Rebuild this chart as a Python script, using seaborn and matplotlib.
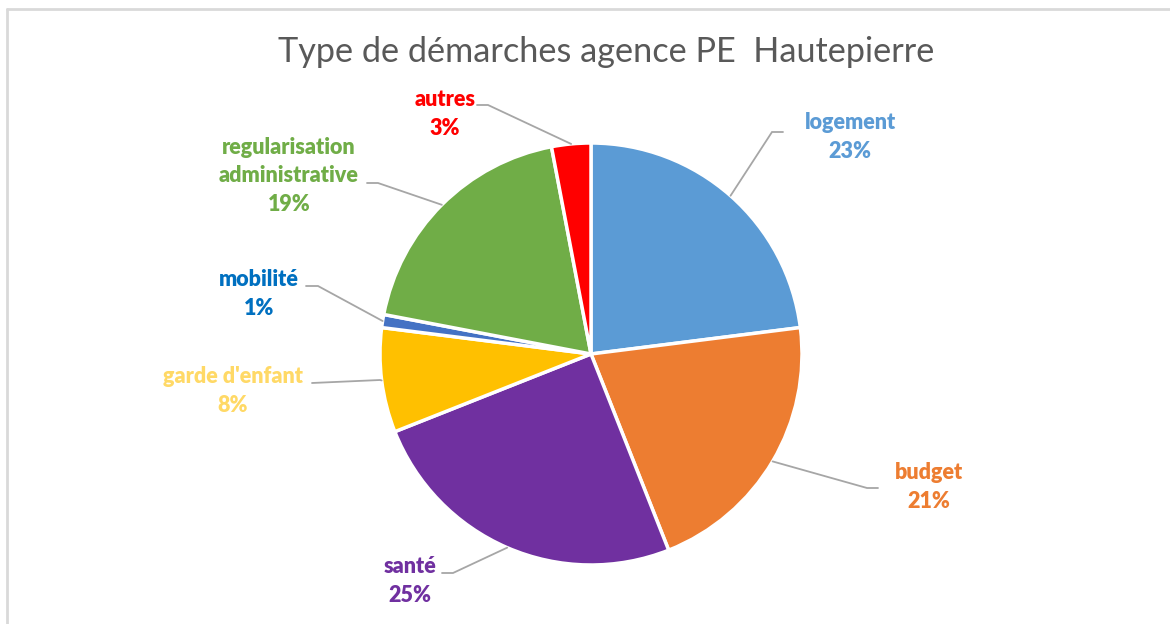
import matplotlib
matplotlib.use("Agg")
import numpy as np
import matplotlib.pyplot as plt
import seaborn as sns

# data
categories = ["logement", "budget", "santé", "garde d'enfant", "mobilité",
              "regularisation\nadministrative", "autres"]
shares = [23, 21, 25, 8, 1, 19, 3]
slice_colors = ["#5B9BD5", "#ED7D31", "#7030A0", "#FFC000", "#4472C4", "#70AD47", "#FF0000"]
label_colors = ["#5B9BD5", "#ED7D31", "#7030A0", "#FFD966", "#0070C0", "#70AD47", "#FF0000"]
title = "Type de démarches agence PE  Hautepierre"

sns.set_style("white")
plt.rcParams['font.family'] = ['Lato', 'DejaVu Sans']

W, H = 1170, 624
fig = plt.figure(figsize=(W / 100, H / 100), dpi=100)
ax = fig.add_axes([0, 0, 1, 1])

def py(y):
    return H - y

cx, cy, r = 591, py(354), 211
wedges, _ = ax.pie(shares, colors=slice_colors, startangle=90, counterclock=False,
                   center=(cx, cy), radius=r,
                   wedgeprops=dict(edgecolor="white", linewidth=2.5))

# label layout in pixels: text centre, elbow, tail of leader line
layout = [
    dict(text=(850, 137), elbow=(772, 132), tail=(783, 132)),
    dict(text=(929, 487), elbow=(867, 488), tail=(878, 488)),
    dict(text=(410, 581), elbow=(453, 573), tail=(442, 573)),
    dict(text=(233, 391), elbow=(380, 380), tail=(312, 383)),
    dict(text=(259, 294), elbow=(318, 286), tail=(306, 286)),
    dict(text=(289, 176), elbow=(378, 183), tail=(367, 183)),
    dict(text=(445, 114), elbow=(488, 105), tail=(477, 105)),
]

for w, cat, pct, col, lay in zip(wedges, categories, shares, label_colors, layout):
    mid = np.deg2rad((w.theta1 + w.theta2) / 2)
    x0 = cx + r * np.cos(mid)
    y0 = cy + r * np.sin(mid)
    ex, ey = lay["elbow"]
    tx, ty = lay["tail"]
    ax.plot([x0, ex, tx], [y0, py(ey), py(ty)], color="#A6A6A6", lw=1.3,
            solid_joinstyle="miter")
    ax.text(lay["text"][0], py(lay["text"][1]), f"{cat}\n{pct}%", color=col,
            fontsize=15.5, fontweight="heavy", ha="center", va="center",
            linespacing=1.42)

ax.text(606, py(52), title, ha="center", va="center", fontsize=24.7, color="#595959")

# chart frame (cropped)
ax.plot([7, W], [py(9), py(9)], color="#D9D9D9", lw=2, clip_on=False)
ax.plot([7, 7], [py(9), 0], color="#D9D9D9", lw=2, clip_on=False)

ax.set_xlim(0, W)
ax.set_ylim(0, H)
ax.set_aspect("equal")
ax.axis("off")

fig.savefig("out.png", dpi=100, facecolor="white")
